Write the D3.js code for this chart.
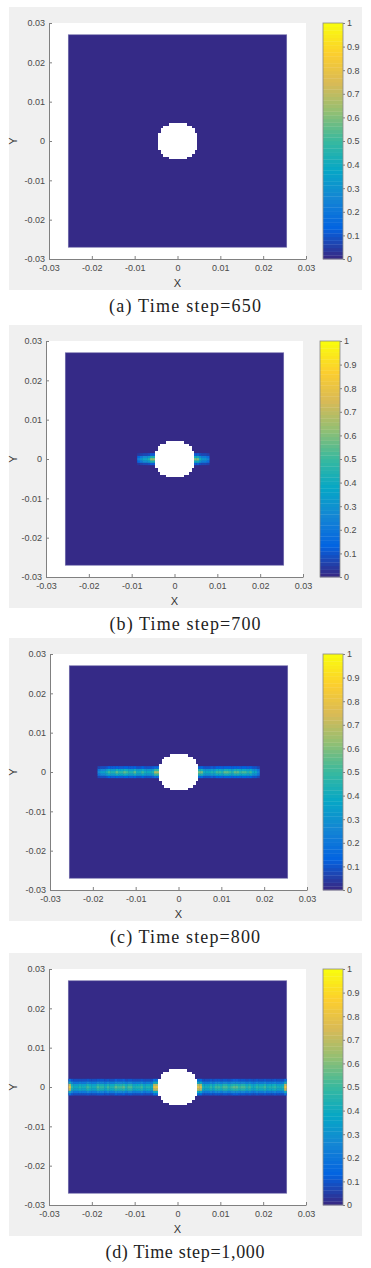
<!DOCTYPE html>
<html>
<head>
<meta charset="utf-8">
<script src="https://cdn.jsdelivr.net/npm/d3@7"></script>
<style>
  body { margin: 0; background: #fff; }
  svg { display: block; }
</style>
</head>
<body>
<script>
/* ---- data ---- */
var captions = ["(a) Time step=650", "(b) Time step=700", "(c) Time step=800", "(d) Time step=1,000"];
var axisTicks = [-0.03, -0.02, -0.01, 0, 0.01, 0.02, 0.03];
var axisTickLabels = ["-0.03", "-0.02", "-0.01", "0", "0.01", "0.02", "0.03"];
var cbarTicks = [0, 0.1, 0.2, 0.3, 0.4, 0.5, 0.6, 0.7, 0.8, 0.9, 1];
var cbarTickLabels = ["0", "0.1", "0.2", "0.3", "0.4", "0.5", "0.6", "0.7", "0.8", "0.9", "1"];

// model grid
var xExtent = [-0.0255, 0.0255];
var yExtent = [-0.027, 0.027];
var nCols = 85, nRows = 91;
var holeRadius = 0.0047;
var crackStep = 0.00084;   // spacing of the crack samples below

// damage along the crack centre line, from the hole edge outward
var crackLeft650 = [];
var crackRight650 = [];
var crackLeft700 = [0.62, 0.45, 0.38, 0.3, 0.22];
var crackRight700 = [0.58, 0.42, 0.32, 0.24];
var crackLeft800 = [0.66, 0.45, 0.4, 0.42, 0.5, 0.42, 0.55, 0.45, 0.5, 0.55, 0.48, 0.55, 0.45, 0.5, 0.42, 0.35, 0.25];
var crackRight800 = [0.58, 0.42, 0.4, 0.45, 0.42, 0.5, 0.45, 0.55, 0.5, 0.45, 0.55, 0.48, 0.52, 0.45, 0.5, 0.38, 0.26];
var crackLeft1000 = [0.8, 0.42, 0.45, 0.4, 0.5, 0.45, 0.42, 0.52, 0.45, 0.55, 0.5, 0.55, 0.45, 0.5, 0.42, 0.48, 0.52, 0.42, 0.45, 0.5, 0.42, 0.45, 0.4, 0.48, 0.82];
var crackRight1000 = [0.78, 0.45, 0.42, 0.48, 0.42, 0.5, 0.45, 0.52, 0.45, 0.5, 0.55, 0.48, 0.52, 0.45, 0.5, 0.42, 0.48, 0.45, 0.5, 0.42, 0.45, 0.48, 0.42, 0.45, 0.82];

// band cross section: row offset from the centre row -> share of the centre value
var bandRows = [-3, -2, -1, 0, 1, 2, 3];
var bandShare650 = [0, 0, 0, 0, 0, 0, 0];
var bandShare700 = [0, 0.2, 0.7, 1, 0.7, 0.2, 0];
var bandShare800 = [0, 0.25, 0.75, 1, 0.75, 0.25, 0];
var bandShare1000 = [0.2, 0.5, 0.85, 1, 0.85, 0.5, 0.2];

// parula anchors
var parulaStops = ["#352a87", "#0363e1", "#1485d4", "#06a7c6", "#38b99e", "#92bf73", "#d9ba56", "#fcce2e", "#f9fb0e"];

var panels = [
  {left: crackLeft650, right: crackRight650, band: bandShare650},
  {left: crackLeft700, right: crackRight700, band: bandShare700},
  {left: crackLeft800, right: crackRight800, band: bandShare800},
  {left: crackLeft1000, right: crackRight1000, band: bandShare1000}
];

/* ---- layout ---- */
var W = 371, H = 1268;
var panelTops = [7, 325, 638, 953];
var plotLefts = [49, 46, 50, 49];
var cbarLefts = [323, 320, 323, 323];
var captionWidths = [152, 151, 150, 159];
var plotW = 257, plotH = 236, cbarW = 20;
var tickFont = "'Liberation Sans', Arial, sans-serif";

var parula = d3.piecewise(d3.interpolateRgb, parulaStops);
var nLevels = 64;
function colorOf(v) {
  var k = Math.min(nLevels - 1, Math.floor(v * nLevels));
  return parula(k / (nLevels - 1));
}

var svg = d3.select("body").append("svg")
  .attr("width", W).attr("height", H);

var defs = svg.append("defs");
defs.append("filter").attr("id", "soft")
  .attr("x", "-10%").attr("y", "-50%").attr("width", "120%").attr("height", "200%")
  .append("feGaussianBlur").attr("stdDeviation", 0.7);

var dx = (xExtent[1] - xExtent[0]) / nCols;
var dy = (yExtent[1] - yExtent[0]) / nRows;
var midRow = (nRows - 1) / 2;

function buildCells(p) {
  var cells = [];
  for (var j = 0; j < nRows; j++) {
    for (var i = 0; i < nCols; i++) {
      var cx = xExtent[0] + (i + 0.5) * dx;
      var cy = yExtent[0] + (j + 0.5) * dy;
      var hole = cx * cx + cy * cy < holeRadius * holeRadius;
      var v = 0;
      var r = bandRows.indexOf(j - midRow);
      if (!hole && r >= 0) {
        var src = cx < 0 ? p.left : p.right;
        var k = Math.floor((Math.abs(cx) - holeRadius) / crackStep);
        if (k >= 0 && k < src.length) v = src[k] * p.band[r];
      }
      cells.push({x0: cx - dx / 2, x1: cx + dx / 2, y0: cy - dy / 2, y1: cy + dy / 2, v: v, hole: hole});
    }
  }
  return cells;
}

panels.forEach(function (p, pi) {
  var top = panelTops[pi];
  var g = svg.append("g");

  g.append("rect")
    .attr("x", 9).attr("y", top).attr("width", 353).attr("height", 283)
    .attr("fill", "#f0f0f0");

  var x = d3.scaleLinear().domain([-0.03, 0.03]).range([plotLefts[pi], plotLefts[pi] + plotW]);
  var y = d3.scaleLinear().domain([-0.03, 0.03]).range([top + 16 + plotH, top + 16]);

  g.append("rect")
    .attr("x", x(-0.03)).attr("y", y(0.03))
    .attr("width", plotW).attr("height", plotH)
    .attr("fill", "#fff");

  var cells = buildCells(p);

  // zero-damage base of the model
  g.append("rect")
    .attr("x", x(xExtent[0])).attr("y", y(yExtent[1]))
    .attr("width", x(xExtent[1]) - x(xExtent[0]))
    .attr("height", y(yExtent[0]) - y(yExtent[1]))
    .attr("fill", colorOf(0))
    .attr("stroke", "#6f6aa8").attr("stroke-width", 0.6);

  var clipId = "clip" + pi;
  defs.append("clipPath").attr("id", clipId)
    .append("rect")
    .attr("x", x(xExtent[0])).attr("y", y(yExtent[1]))
    .attr("width", x(xExtent[1]) - x(xExtent[0]))
    .attr("height", y(yExtent[0]) - y(yExtent[1]));

  var field = g.append("g").attr("clip-path", "url(#" + clipId + ")")
    .append("g").attr("filter", "url(#soft)");
  field.selectAll("rect")
    .data(cells.filter(function (c) { return !c.hole && c.v > 0; }))
    .enter().append("rect")
    .attr("x", function (c) { return x(c.x0); })
    .attr("y", function (c) { return y(c.y1); })
    .attr("width", function (c) { return x(c.x1) - x(c.x0) + 0.3; })
    .attr("height", function (c) { return y(c.y0) - y(c.y1) + 0.3; })
    .attr("fill", function (c) { return colorOf(c.v); });

  // hole
  g.append("g").attr("shape-rendering", "crispEdges").selectAll("rect")
    .data(cells.filter(function (c) { return c.hole; }))
    .enter().append("rect")
    .attr("x", function (c) { return x(c.x0); })
    .attr("y", function (c) { return y(c.y1); })
    .attr("width", function (c) { return x(c.x1) - x(c.x0) + 0.5; })
    .attr("height", function (c) { return y(c.y0) - y(c.y1) + 0.5; })
    .attr("fill", "#fff");

  // axes (left + bottom only, ticks inward)
  var axisColor = "#808080";
  var xAxis = d3.axisBottom(x).tickValues(axisTicks).tickSizeInner(-3).tickSizeOuter(0)
    .tickFormat(function (d, i) { return axisTickLabels[i]; });
  var yAxis = d3.axisLeft(y).tickValues(axisTicks).tickSizeInner(-3).tickSizeOuter(0)
    .tickFormat(function (d, i) { return axisTickLabels[i]; });

  var gx = g.append("g").attr("transform", "translate(0," + y(-0.03) + ")").call(xAxis);
  var gy = g.append("g").attr("transform", "translate(" + x(-0.03) + ",0)").call(yAxis);
  [gx, gy].forEach(function (a) {
    a.select(".domain").attr("stroke", axisColor);
    a.selectAll(".tick line").attr("stroke", axisColor);
    a.selectAll(".tick text").attr("fill", "#4a4a4a")
      .style("font-family", tickFont).style("font-size", "9px");
  });
  gx.selectAll(".tick text").attr("y", 6);
  gy.selectAll(".tick text").attr("x", -4);

  g.append("text")
    .attr("x", x(0)).attr("y", y(-0.03) + 28)
    .attr("text-anchor", "middle")
    .style("font-family", tickFont).style("font-size", "11px")
    .attr("fill", "#333").text("X");
  g.append("text")
    .attr("transform", "translate(17," + y(0) + ") rotate(-90)")
    .attr("text-anchor", "middle")
    .style("font-family", tickFont).style("font-size", "11px")
    .attr("fill", "#333").text("Y");

  // colorbar
  var cy = d3.scaleLinear().domain([0, 1]).range([y(-0.03), y(0.03)]);
  var cb = g.append("g");
  cb.selectAll("rect.lvl")
    .data(d3.range(nLevels))
    .enter().append("rect").attr("class", "lvl")
    .attr("x", cbarLefts[pi])
    .attr("y", function (k) { return cy((k + 1) / nLevels); })
    .attr("width", cbarW)
    .attr("height", function (k) { return cy(k / nLevels) - cy((k + 1) / nLevels) + 0.3; })
    .attr("fill", function (k) { return parula(k / (nLevels - 1)); });
  cb.append("rect")
    .attr("x", cbarLefts[pi]).attr("y", cy(1))
    .attr("width", cbarW).attr("height", cy(0) - cy(1))
    .attr("fill", "none").attr("stroke", "#8a8a8a").attr("stroke-width", 0.8);

  var cAxis = d3.axisRight(cy).tickValues(cbarTicks).tickSize(2)
    .tickFormat(function (d, i) { return cbarTickLabels[i]; });
  var gc = g.append("g").attr("transform", "translate(" + (cbarLefts[pi] + cbarW) + ",0)").call(cAxis);
  gc.select(".domain").remove();
  gc.selectAll(".tick line").attr("stroke", axisColor);
  gc.selectAll(".tick text").attr("fill", "#4a4a4a").attr("x", 4)
    .style("font-family", tickFont).style("font-size", "9px");

  // caption
  g.append("text")
    .attr("x", 185).attr("y", top + 305)
    .attr("text-anchor", "middle")
    .attr("textLength", captionWidths[pi]).attr("lengthAdjust", "spacing")
    .style("font-family", "'Liberation Serif', 'DejaVu Serif', serif")
    .style("font-size", "18px")
    .attr("fill", "#222")
    .text(captions[pi]);
});
</script>
</body>
</html>
